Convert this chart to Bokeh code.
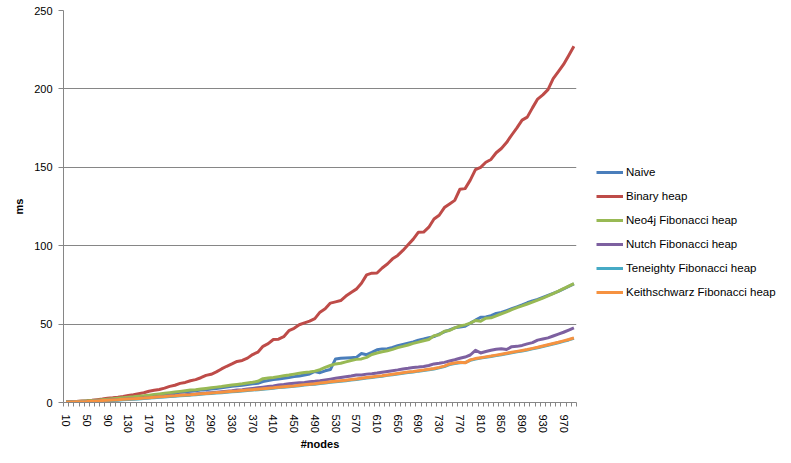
import math
from bokeh.plotting import figure
from bokeh.models import Range1d, FixedTicker, Legend, LegendItem
from bokeh.embed import file_html
from bokeh.resources import INLINE

nodes = list(range(10, 1000, 10))

naive = [0.2, 0.3, 0.5, 0.6, 0.8, 1.0, 1.2, 1.5, 1.8, 2.1, 2.3, 2.6, 2.9, 3.2, 3.5, 3.9, 4.2, 4.6, 5.0, 5.3,
         5.8, 6.1, 6.5, 6.8, 7.2, 7.5, 7.9, 8.2, 8.6, 9.0, 9.4, 9.8, 10.3, 10.7, 11.0, 11.4, 11.9, 12.3, 13.4, 14.0,
         14.6, 15.0, 15.4, 15.9, 16.5, 16.9, 17.5, 18.2, 19.8, 19.0, 20.2, 21.0, 27.8, 28.2, 28.4, 28.6, 28.8, 31.2, 30.5, 32.0,
         33.6, 34.2, 34.3, 35.1, 36.2, 37.0, 37.8, 38.6, 39.8, 40.5, 41.3, 42.0, 43.6, 45.1, 46.3, 47.6, 48.2, 48.6, 50.6, 52.5,
         54.3, 54.6, 55.4, 56.8, 57.4, 58.6, 59.8, 61.0, 62.2, 63.6, 64.8, 65.7, 67.0, 68.3, 69.6, 70.9, 72.4, 74.0, 75.6]

binary_heap = [0.3, 0.5, 0.7, 0.9, 1.1, 1.4, 1.8, 2.2, 2.7, 3.0, 3.4, 3.9, 4.5, 5.0, 5.6, 6.2, 7.2, 7.8, 8.3, 9.2,
               10.3, 11.0, 12.2, 12.8, 13.9, 14.6, 15.8, 17.3, 18.0, 19.5, 21.4, 23.1, 24.6, 26.2, 26.8, 28.3, 30.6, 32.1, 35.8, 37.5,
               40.2, 40.4, 42.0, 45.8, 47.3, 49.6, 50.8, 51.9, 53.5, 57.6, 59.8, 63.4, 64.2, 65.0, 67.9, 70.2, 72.3, 76.0, 81.4, 82.5,
               82.6, 85.8, 88.3, 91.6, 93.8, 97.0, 100.6, 104.2, 108.6, 108.7, 111.8, 117.0, 119.4, 124.3, 126.6, 128.9, 136.0, 136.4, 141.8, 148.5,
               150.0, 153.2, 155.0, 159.3, 162.0, 165.8, 170.6, 175.2, 180.1, 182.0, 187.9, 193.5, 196.2, 199.5, 206.5, 211.0, 215.6, 221.3, 227.2]

neo4j_fib = [0.3, 0.4, 0.6, 0.8, 1.0, 1.2, 1.5, 1.8, 2.1, 2.4, 2.7, 3.0, 3.3, 3.6, 4.0, 4.3, 4.7, 5.1, 5.5, 5.9,
             6.3, 6.7, 7.1, 7.5, 7.9, 8.2, 8.6, 9.0, 9.4, 9.8, 10.2, 10.7, 11.1, 11.5, 11.9, 12.4, 12.9, 13.5, 15.2, 15.6,
             16.0, 16.5, 17.0, 17.5, 18.1, 18.6, 19.1, 19.5, 20.0, 20.9, 22.4, 23.6, 24.6, 25.0, 25.9, 26.8, 27.5, 27.8, 28.8, 30.6,
             31.6, 32.4, 33.0, 33.9, 35.0, 35.8, 36.7, 37.7, 38.5, 39.4, 40.2, 42.6, 43.2, 45.5, 45.9, 47.6, 48.8, 49.5, 50.6, 52.3,
             51.8, 53.8, 54.0, 55.3, 56.6, 57.8, 59.2, 60.5, 61.6, 62.8, 64.0, 65.3, 66.6, 68.0, 69.5, 71.0, 72.6, 74.2, 75.8]

nutch_fib = [0.2, 0.3, 0.4, 0.5, 0.7, 0.8, 1.0, 1.2, 1.4, 1.6, 1.8, 2.0, 2.2, 2.4, 2.6, 2.9, 3.1, 3.4, 3.6, 3.9,
             4.2, 4.5, 4.8, 5.0, 5.3, 5.5, 5.8, 6.0, 6.3, 6.6, 6.9, 7.2, 7.5, 7.9, 8.2, 8.6, 9.0, 9.4, 9.8, 10.2,
             10.6, 11.2, 11.5, 11.9, 12.3, 12.6, 12.8, 13.2, 13.5, 13.9, 14.4, 14.9, 15.4, 15.9, 16.4, 16.9, 17.5, 17.6, 18.1, 18.4,
             18.8, 19.3, 19.8, 20.3, 20.8, 21.4, 21.8, 22.3, 22.6, 23.0, 23.6, 24.6, 25.0, 25.6, 26.5, 27.3, 28.2, 29.0, 30.3, 33.3,
             31.6, 32.5, 33.3, 33.9, 34.3, 33.8, 35.6, 35.8, 36.4, 37.4, 38.2, 39.8, 40.5, 41.2, 42.4, 43.6, 44.8, 46.2, 47.6]

teneighty_fib = [0.1, 0.2, 0.3, 0.4, 0.5, 0.6, 0.8, 0.9, 1.1, 1.3, 1.5, 1.7, 1.9, 2.1, 2.3, 2.5, 2.8, 3.0, 3.3, 3.5,
                 3.8, 4.0, 4.3, 4.5, 4.7, 5.0, 5.3, 5.5, 5.7, 6.0, 6.2, 6.5, 6.8, 7.0, 7.3, 7.6, 7.9, 8.2, 8.5, 8.8,
                 9.1, 9.5, 9.8, 10.1, 10.3, 10.7, 11.1, 11.4, 11.7, 12.1, 12.5, 12.9, 13.3, 13.6, 13.9, 14.3, 14.7, 15.1, 15.6, 16.0,
                 16.4, 16.8, 17.3, 17.7, 18.2, 18.7, 19.1, 19.5, 20.0, 20.4, 20.9, 21.4, 22.1, 22.9, 24.2, 24.9, 25.3, 25.5, 26.9, 27.7,
                 28.3, 28.8, 29.3, 29.9, 30.5, 31.1, 31.7, 32.3, 32.9, 33.5, 34.2, 34.9, 35.7, 36.5, 37.3, 38.1, 39.0, 39.9, 40.9]

keithschwarz_fib = [0.2, 0.3, 0.4, 0.5, 0.6, 0.8, 1.0, 1.2, 1.4, 1.6, 1.8, 2.0, 2.2, 2.4, 2.6, 2.8, 3.1, 3.3, 3.6, 3.8,
                    4.1, 4.3, 4.6, 4.8, 5.0, 5.3, 5.6, 5.8, 6.0, 6.3, 6.5, 6.8, 7.1, 7.3, 7.6, 7.9, 8.2, 8.5, 8.8, 9.1,
                    9.4, 9.8, 10.1, 10.4, 10.6, 11.0, 11.4, 11.7, 12.0, 12.4, 12.8, 13.2, 13.6, 13.9, 14.2, 14.6, 15.0, 15.4, 15.9, 16.3,
                    16.7, 17.1, 17.6, 18.0, 18.5, 19.0, 19.4, 19.8, 20.3, 20.7, 21.2, 21.7, 22.4, 23.2, 24.6, 25.2, 25.6, 25.3, 27.2, 28.0,
                    28.6, 29.1, 29.6, 30.2, 30.8, 31.4, 32.0, 32.6, 33.2, 33.8, 34.5, 35.2, 36.0, 36.8, 37.6, 38.4, 39.3, 40.2, 41.2]

series_names = ["Naive", "Binary heap", "Neo4j Fibonacci heap", "Nutch Fibonacci heap",
                "Teneighty Fibonacci heap", "Keithschwarz Fibonacci heap"]
series_values = [naive, binary_heap, neo4j_fib, nutch_fib, teneighty_fib, keithschwarz_fib]
colors = ["#4A7EBB", "#BE4B48", "#98B954", "#7D60A0", "#46AAC5", "#F69240"]

y_ticks = [0, 50, 100, 150, 200, 250]

FONT = "Liberation Sans"
GRAY = "#868686"

p = figure(width=791, height=463, output_backend="svg", toolbar_location=None,
           x_range=Range1d(5, 995), y_range=Range1d(0, 250),
           min_border_left=63, min_border_right=10, min_border_top=10, min_border_bottom=61,
           frame_width=513, frame_height=392)
p.outline_line_color = None
p.background_fill_color = "white"
p.border_fill_color = "white"

step = nodes[1] - nodes[0]
p.xaxis.ticker = FixedTicker(ticks=nodes[::4],
                             minor_ticks=[n - step / 2 for n in nodes] + [nodes[-1] + step / 2])
p.yaxis.ticker = FixedTicker(ticks=y_ticks)

p.xgrid.grid_line_color = None
p.ygrid.grid_line_color = GRAY
p.ygrid.grid_line_width = 1

for ax in (p.xaxis[0], p.yaxis[0]):
    ax.axis_line_color = GRAY
    ax.major_label_text_font = FONT
    ax.major_label_text_font_size = "11px"
    ax.major_label_text_color = "#000000"
    ax.axis_label_text_font = FONT
    ax.axis_label_text_font_size = "11px"
    ax.axis_label_text_font_style = "bold"
    ax.axis_label_text_color = "#000000"

p.xaxis.major_tick_line_color = None
p.xaxis.major_tick_out = 0
p.xaxis.major_tick_in = 0
p.xaxis.minor_tick_line_color = GRAY
p.xaxis.minor_tick_out = 4
p.xaxis.minor_tick_in = 0
p.xaxis.major_label_orientation = -math.pi / 2
p.xaxis.major_label_standoff = 8
p.xaxis.axis_label = "#nodes"
p.xaxis.axis_label_standoff = 2

p.yaxis.major_tick_line_color = GRAY
p.yaxis.major_tick_out = 5
p.yaxis.major_tick_in = 0
p.yaxis.minor_tick_line_color = None
p.yaxis.major_label_standoff = 6
p.yaxis.axis_label = "ms"
p.yaxis.axis_label_standoff = 6

items = []
for name, vals, col in zip(series_names, series_values, colors):
    r = p.line(nodes, vals, line_color=col, line_width=3, line_join="round")
    items.append(LegendItem(label=name, renderers=[r]))

legend = Legend(items=items, location=(20, 100), orientation="vertical",
                padding=0, margin=0, spacing=4, label_height=20, glyph_height=20,
                glyph_width=27, label_standoff=3,
                label_text_font=FONT, label_text_font_size="11.5px", label_text_color="#000000",
                border_line_color=None, background_fill_alpha=0)
p.add_layout(legend, "right")

open("out.html", "w").write(file_html(p, INLINE))
